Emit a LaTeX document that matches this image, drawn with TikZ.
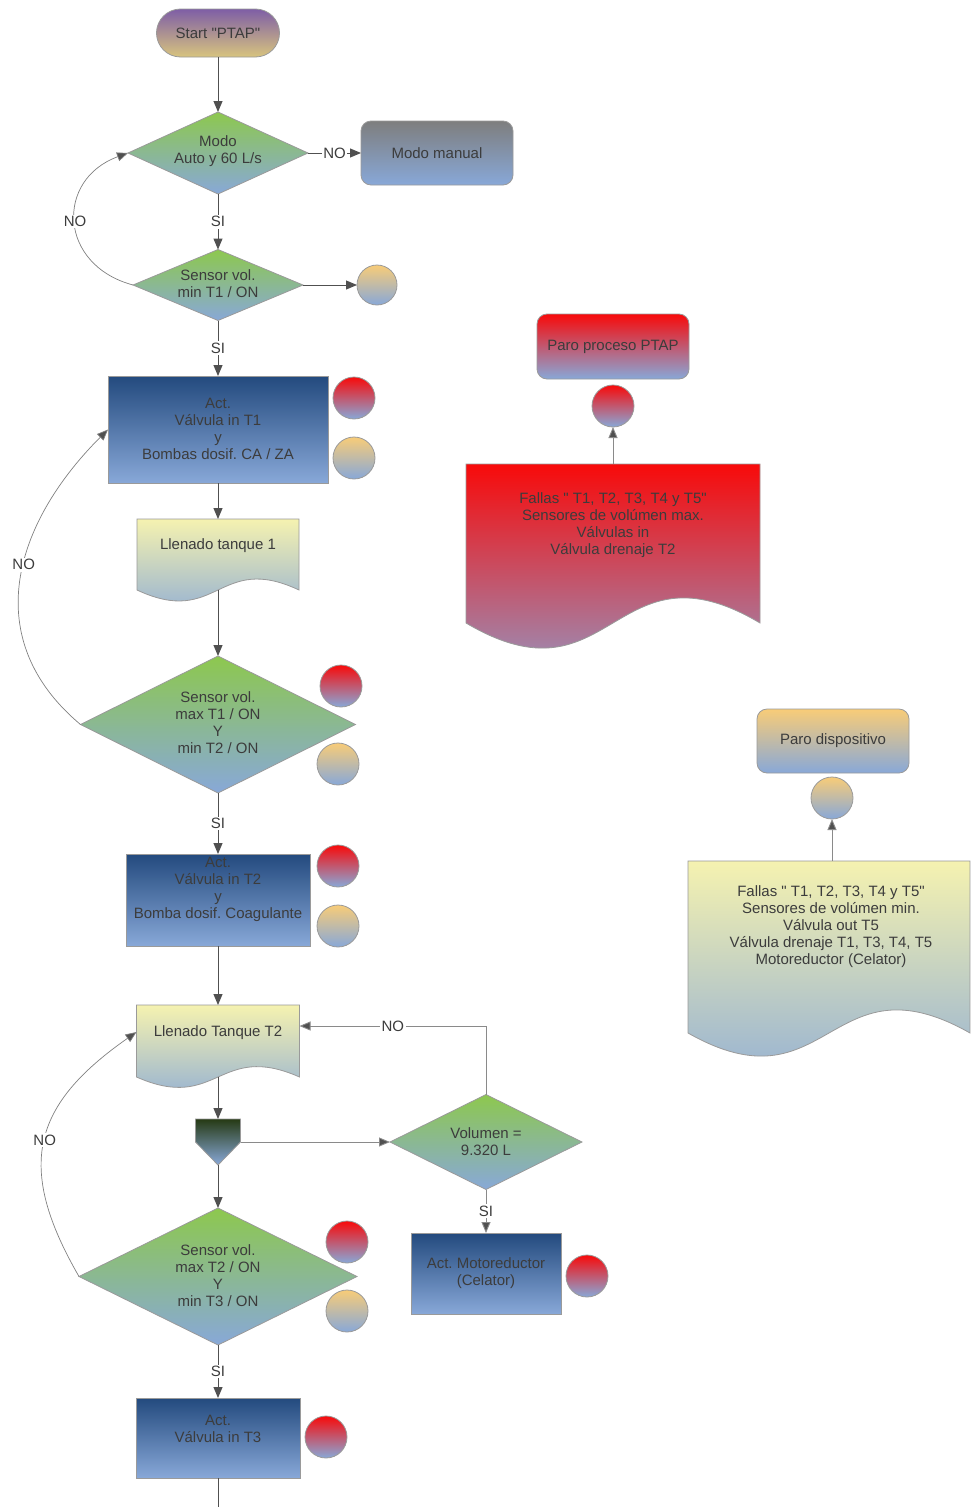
\documentclass[tikz,border=0pt]{standalone}
\usepackage{fontspec}
\setmainfont{Liberation Sans}[Ligatures=TeXOff]
\usetikzlibrary{arrows.meta,shapes.geometric,calc}
\definecolor{txtc}{HTML}{3C3C3C}
\definecolor{lineC}{HTML}{505050}
\definecolor{lightL}{HTML}{8A8A8A}
\definecolor{bordC}{HTML}{9A9A9A}
\definecolor{botBlue}{HTML}{88A8D8}
\definecolor{grnTop}{HTML}{8DC84E}
\definecolor{navy}{HTML}{234A7E}
\definecolor{yelTop}{HTML}{F5F2B0}
\definecolor{redTop}{HTML}{F80A0A}
\definecolor{orgTop}{HTML}{F8CC78}
\definecolor{purTop}{HTML}{7E5EA6}
\definecolor{tanBot}{HTML}{D8C47E}
\definecolor{grayTop}{HTML}{7E7E7E}
\definecolor{mrgTop}{HTML}{263A14}
\begin{document}
\frenchspacing
\begin{tikzpicture}[x=1pt,y=-1pt,
  font=\fontsize{15}{17}\selectfont\frenchspacing, text=txtc,
  base/.style={draw=bordC, line width=0.8pt, inner sep=0pt, outer sep=0pt, align=center},
  dia/.style={base, diamond, top color=grnTop, bottom color=botBlue},
  blk/.style={base, rectangle, top color=navy, bottom color=botBlue},
  rnd/.style={base, rectangle, rounded corners=10pt},
  redball/.style={base, circle, minimum size=42pt, top color=redTop, bottom color=botBlue},
  orgball/.style={base, circle, minimum size=42pt, top color=orgTop, bottom color=botBlue},
  anchorbox/.style={rectangle, inner sep=0pt, outer sep=0pt},
  docs/.style={draw=bordC, line width=0.8pt},
  lbl/.style={align=center, inner sep=0pt},
  lab/.style={fill=white, inner sep=1.5pt},
  tip/.style={-{Triangle[length=11pt,width=9pt]}},
  flow/.style={draw=lineC, line width=1pt, tip},
  flowthin/.style={draw=lightL, line width=0.9pt, -{Triangle[length=11pt,width=9pt,fill=lineC]}},
  loopc/.style={draw=gray, line width=0.7pt, -{Triangle[length=11pt,width=9pt,fill=lineC]}},
  plain/.style={draw=lineC, line width=1pt}
]
\useasboundingbox (0,0) rectangle (971,1507);

% ---------- main column ----------
\node[rnd, rounded corners=24pt, top color=purTop, bottom color=tanBot, minimum width=123pt, minimum height=48pt] (start) at (218,33) {Start "PTAP"};

\node[dia, minimum width=180pt, minimum height=82pt] (d1) at (218,153) {};
\node[lbl] (d1t) at (218,151) {Modo\\Auto y 60 L/s};
\node[rnd, top color=grayTop, bottom color=botBlue, minimum width=152pt, minimum height=64pt] (mm) at (437,153) {Modo manual};

\node[dia, minimum width=170pt, minimum height=71pt] (d2) at (218,285) {};
\node[lbl] (d2t) at (218,283.5) {Sensor vol.\\min T1 / ON};
\node[orgball, minimum size=40pt] (c0) at (377,285) {};

\node[blk, minimum width=220pt, minimum height=107pt] (r1) at (218,429.5) {};
\node[lbl] (r1t) at (218,428.5) {Act.\\Válvula in T1\\y\\Bombas dosif. CA / ZA};
\node[redball] (r1a) at (354,398) {};
\node[orgball] (r1b) at (354,458) {};

\node[anchorbox, minimum width=162pt, minimum height=71pt] (doc1) at (218,554.5) {};
\path[docs, top color=yelTop, bottom color=botBlue] (doc1.north west) -- (doc1.north east) -- (doc1.south east)
  .. controls ($(doc1.south)+(0,-38)$) and ($(doc1.south)+(0,38)$) .. (doc1.south west) -- cycle;
\node[lbl] (doc1t) at (218,546) {Llenado tanque 1};

\node[dia, minimum width=275pt, minimum height=137pt] (d3) at (218,724.5) {};
\node[lbl] (d3t) at (218,723) {Sensor vol.\\max T1 / ON\\Y\\min T2 / ON};
\node[redball] (d3a) at (341,686) {};
\node[orgball] (d3b) at (338,764) {};

\node[blk, minimum width=184pt, minimum height=92pt] (r2) at (218,900) {};
\node[lbl] (r2t) at (218,889.5) {Act.\\Válvula in T2\\y\\Bomba dosif. Coagulante};
\node[redball] (r2a) at (338,866) {};
\node[orgball] (r2b) at (338,926) {};

\node[anchorbox, minimum width=163pt, minimum height=72pt] (doc2) at (218,1041) {};
\path[docs, top color=yelTop, bottom color=botBlue] (doc2.north west) -- (doc2.north east) -- (doc2.south east)
  .. controls ($(doc2.south)+(0,-36)$) and ($(doc2.south)+(0,36)$) .. (doc2.south west) -- cycle;
\node[lbl] (doc2t) at (218,1033) {Llenado Tanque T2};

\node[anchorbox, minimum width=45pt, minimum height=46pt] (mrg) at (218,1142) {};
\path[docs, top color=mrgTop, bottom color=botBlue] (mrg.north west) -- (mrg.north east) -- (mrg.east) -- (mrg.south) -- (mrg.west) -- cycle;

\node[dia, minimum width=192pt, minimum height=95pt] (vol) at (486,1142) {};
\node[lbl] (volt) at (486,1141.5) {Volumen =\\9.320 L};

\node[blk, minimum width=150pt, minimum height=81pt] (mot) at (486,1273.5) {Act. Motoreductor\\(Celator)};
\node[redball] (mota) at (587,1276) {};

\node[dia, minimum width=278pt, minimum height=137pt] (d5) at (218,1276.5) {};
\node[lbl] (d5t) at (218,1275.5) {Sensor vol.\\max T2 / ON\\Y\\min T3 / ON};
\node[redball] (d5a) at (347,1242) {};
\node[orgball] (d5b) at (347,1311) {};

\node[blk, minimum width=164pt, minimum height=80pt] (r3) at (218,1438) {};
\node[lbl] (r3t) at (218,1428.5) {Act.\\Válvula in T3};
\node[redball] (r3a) at (326,1437) {};
\coordinate (end) at (218,1507);

% ---------- right column ----------
\node[rnd, top color=redTop, bottom color=botBlue, minimum width=152pt, minimum height=65pt] (pp) at (613,346.5) {Paro proceso PTAP};
\node[redball] (cR) at (613,406) {};
\node[anchorbox, minimum width=294pt, minimum height=159pt] (rdoc) at (613,543.5) {};
\path[docs, top color=redTop, bottom color=botBlue] (rdoc.north west) -- (rdoc.north east) -- (rdoc.south east)
  .. controls ($(rdoc.south)+(0,-87)$) and ($(rdoc.south)+(0,87)$) .. (rdoc.south west) -- cycle;
\node[lbl] (rdoct) at (613,525.5) {Fallas " T1, T2, T3, T4 y T5"\\Sensores de volúmen max.\\Válvulas in\\Válvula drenaje T2};

\node[rnd, top color=orgTop, bottom color=botBlue, minimum width=152pt, minimum height=64pt] (pd) at (833,741) {Paro dispositivo};
\node[orgball] (cO) at (832,798) {};
\node[anchorbox, minimum width=282pt, minimum height=172pt] (ydoc) at (829,947) {};
\path[docs, top color=yelTop, bottom color=botBlue] (ydoc.north west) -- (ydoc.north east) -- (ydoc.south east)
  .. controls ($(ydoc.south)+(0,-80)$) and ($(ydoc.south)+(0,80)$) .. (ydoc.south west) -- cycle;
\node[lbl] (ydoct) at (831,927) {Fallas " T1, T2, T3, T4 y T5"\\Sensores de volúmen min.\\Válvula out T5\\Válvula drenaje T1, T3, T4, T5\\Motoreductor (Celator)};

% ---------- connectors ----------
\draw[flow] (start.south) -- (d1.north);
\draw[flow] (d1.east) -- node[lab]{NO} (mm.west);
\draw[flow] (d1.south) -- node[lab]{SI} (d2.north);
\draw[flow] (d2.east) -- (c0.west);
\draw[loopc] (d2.west) to[out=165,in=200,looseness=1.5] node[lab]{NO} (d1.west);
\draw[flow] (d2.south) -- node[lab]{SI} (r1.north);
\draw[flow] (r1.south) -- (doc1.north);
\draw[flow] (doc1.south) -- (d3.north);
\draw[loopc] (d3.west) to[out=140,in=225,looseness=1.15] node[lab, pos=0.55]{NO} (r1.west);
\draw[flow] (d3.south) -- node[lab]{SI} (r2.north);
\draw[flow] (r2.south) -- (doc2.north);
\draw[flow] (doc2.south) -- (mrg.north);
\draw[flowthin] (mrg.east) -- (vol.west);
\draw[flow] (mrg.south) -- (d5.north);
\draw[flowthin] (vol.north) |- node[lab, pos=0.75]{NO} ([yshift=15pt]doc2.east);
\draw[flowthin] (vol.south) -- node[lab]{SI} (mot.north);
\draw[loopc] (d5.west) to[out=120,in=215,looseness=1.3] node[lab]{NO} ([yshift=9pt]doc2.west);
\draw[flow] (d5.south) -- node[lab]{SI} (r3.north);
\draw[plain] (r3.south) -- (end);
\draw[flowthin] (rdoc.north) -- (cR.south);
\draw[flowthin] (ydoc.north -| cO.south) -- (cO.south);
\end{tikzpicture}
\end{document}
